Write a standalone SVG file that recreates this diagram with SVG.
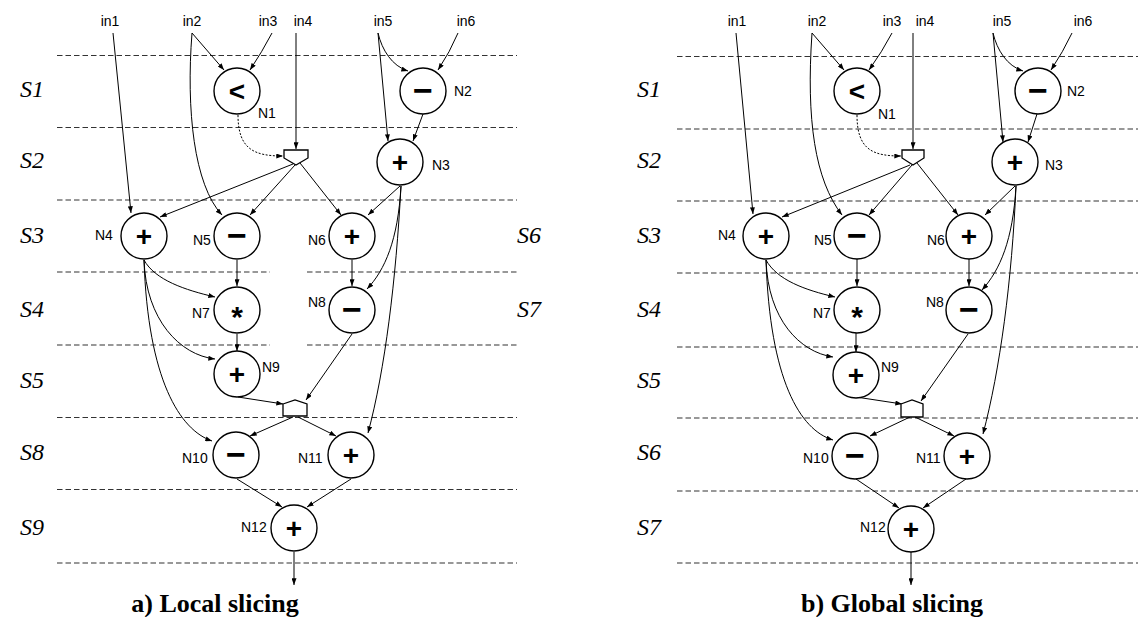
<svg xmlns="http://www.w3.org/2000/svg" width="1138" height="617" viewBox="0 0 1138 617">
<style>
.dl{stroke:#333;stroke-width:1.1;stroke-dasharray:5.5 3;fill:none}
.nd circle{fill:#fff;stroke:#000;stroke-width:1.4}
.mux{fill:#fff;stroke:#000;stroke-width:1.3}
.e{stroke:#000;stroke-width:1;fill:none;marker-end:url(#ah)}
.dot{stroke-dasharray:2 1.6}
.op{font-family:"Liberation Sans",Arial,sans-serif;font-weight:bold;font-size:28px;text-anchor:middle}
.mn{font-size:34px}
.st2{font-size:30px}
.lbl{font-family:"Liberation Sans",Arial,sans-serif;font-size:14px}
.in{font-family:"Liberation Sans",Arial,sans-serif;font-size:14px;text-anchor:middle}
.st{font-family:"Liberation Serif","Times New Roman",serif;font-style:italic;font-size:24px}
.cap{font-family:"Liberation Serif","Times New Roman",serif;font-weight:bold;font-size:26px;text-anchor:middle}
</style>
<defs>
<marker id="ah" viewBox="0 0 8 6" refX="8" refY="3" markerWidth="7" markerHeight="5" markerUnits="userSpaceOnUse" orient="auto"><path d="M0,0 L8,3 L0,6 z" fill="#000"/></marker>
</defs>
<rect width="1138" height="617" fill="#fff"/>

<g id="stage-lines">
<path class="dl" d="M57,55.5H517M57,127.5H517M57,200H517M57,272H270M307,272H517M57,345H270M307,345H517M57,417.5H517M57,489.5H517M57,563H517"/>
<path class="dl" d="M677,56.5H1138M677,129H1138M677,201H1138M677,273H1138M677,347H1138M677,418H1138M677,491H1138M677,563H1138"/>
</g>

<g id="stage-labels">
<text class="st" x="20" y="97">S1</text>
<text class="st" x="20" y="168">S2</text>
<text class="st" x="20" y="243">S3</text>
<text class="st" x="20" y="317">S4</text>
<text class="st" x="20" y="388">S5</text>
<text class="st" x="20" y="460">S8</text>
<text class="st" x="20" y="535">S9</text>
<text class="st" x="517" y="243">S6</text>
<text class="st" x="517" y="317">S7</text>
<text class="st" x="637" y="97">S1</text>
<text class="st" x="637" y="168">S2</text>
<text class="st" x="637" y="243">S3</text>
<text class="st" x="637" y="317">S4</text>
<text class="st" x="637" y="388">S5</text>
<text class="st" x="637" y="460">S6</text>
<text class="st" x="637" y="535">S7</text>
</g>

<g id="inputs">
<text class="in" x="110" y="26">in1</text>
<text class="in" x="192" y="26">in2</text>
<text class="in" x="268" y="26">in3</text>
<text class="in" x="303" y="26">in4</text>
<text class="in" x="383" y="26">in5</text>
<text class="in" x="466" y="26">in6</text>
<text class="in" x="737" y="26">in1</text>
<text class="in" x="817" y="26">in2</text>
<text class="in" x="892" y="26">in3</text>
<text class="in" x="925" y="26">in4</text>
<text class="in" x="1002" y="26">in5</text>
<text class="in" x="1083" y="26">in6</text>
</g>

<g id="connectors">
<!-- left diagram -->
<path class="e" d="M113,33 L131,213"/>
<path class="e" d="M192,33 L224,70"/>
<path class="e" d="M192,33 C186,110 194,185 222,215"/>
<path class="e" d="M272,33 Q262,52 250,70"/>
<path class="e" d="M296,33 L296,149"/>
<path class="e dot" d="M238,115 C238,150 255,156 283,156"/>
<path class="e" d="M293,164 L160,217"/>
<path class="e" d="M295,165 L250,215"/>
<path class="e" d="M300,163 L341,215"/>
<path class="e" d="M378,33 C382,50 392,66 408,71"/>
<path class="e" d="M378,33 L388,141"/>
<path class="e" d="M458,33 Q450,52 438,70"/>
<path class="e" d="M423,114 L413,141"/>
<path class="e" d="M400,186 L368,215"/>
<path class="e" d="M401,186 C398,240 385,270 367,289"/>
<path class="e" d="M401,186 C396,280 385,370 368,433"/>
<path class="e" d="M144,260 C155,280 185,290 215,297"/>
<path class="e" d="M144,260 C146,320 180,355 215,359"/>
<path class="e" d="M144,260 C148,380 180,430 212,441"/>
<path class="e" d="M237,260 L237,286"/>
<path class="e" d="M237,334 L237,351"/>
<path class="e" d="M352,260 L352,286"/>
<path class="e" d="M238,397 L283,404"/>
<path class="e" d="M352,334 L306,400"/>
<path class="e" d="M293,417 L250,436"/>
<path class="e" d="M298,417 L336,436"/>
<path class="e" d="M237,479 L282,507"/>
<path class="e" d="M351,479 L307,507"/>
<path class="e" d="M294,552 L294,585"/>
<!-- right diagram -->
<path class="e" d="M736,33 L753,214"/>
<path class="e" d="M812,33 L844,70"/>
<path class="e" d="M812,33 C806,120 815,180 842,215"/>
<path class="e" d="M892,33 Q882,52 869,70"/>
<path class="e" d="M913,33 L913,149"/>
<path class="e dot" d="M857,115 C857,150 873,156 901,156"/>
<path class="e" d="M910,165 L782,217"/>
<path class="e" d="M912,165 L869,215"/>
<path class="e" d="M917,163 L958,215"/>
<path class="e" d="M993,33 C997,50 1007,66 1023,71"/>
<path class="e" d="M993,33 L1003,142"/>
<path class="e" d="M1072,33 Q1063,52 1051,70"/>
<path class="e" d="M1037,114 L1028,142"/>
<path class="e" d="M1015,186 L985,215"/>
<path class="e" d="M1016,186 C1013,240 1000,270 982,290"/>
<path class="e" d="M1016,186 C1012,280 1000,370 983,434"/>
<path class="e" d="M766,260 C777,280 805,290 835,297"/>
<path class="e" d="M766,260 C768,320 800,352 833,357"/>
<path class="e" d="M766,260 C770,380 800,430 833,440"/>
<path class="e" d="M857,259 L857,286"/>
<path class="e" d="M856,333 L856,352"/>
<path class="e" d="M969,259 L969,286"/>
<path class="e" d="M856,397 L902,404"/>
<path class="e" d="M968,334 L921,401"/>
<path class="e" d="M910,417 L870,436"/>
<path class="e" d="M915,417 L954,436"/>
<path class="e" d="M856,479 L899,508"/>
<path class="e" d="M966,479 L923,508"/>
<path class="e" d="M911,552 L911,585"/>
</g>

<!-- left diagram nodes -->
<g id="a-mux1"><polygon class="mux" points="284,150 308,150 308,158 296,165 284,158"/></g>
<g id="a-mux2"><polygon class="mux" points="283,404 295,400 307,404 307,416 283,416"/></g>
<g id="a-N1" class="nd"><circle cx="237" cy="91" r="23"/><text class="op" x="237" y="101">&lt;</text><text class="lbl" x="258" y="118">N1</text></g>
<g id="a-N2" class="nd"><circle cx="423" cy="91" r="23"/><text class="op mn" x="423" y="102">−</text><text class="lbl" x="454" y="96">N2</text></g>
<g id="a-N3" class="nd"><circle cx="400" cy="162" r="23"/><text class="op" x="400" y="172">+</text><text class="lbl" x="432" y="170">N3</text></g>
<g id="a-N4" class="nd"><circle cx="144" cy="236" r="23"/><text class="op" x="144" y="246">+</text><text class="lbl" x="95" y="240">N4</text></g>
<g id="a-N5" class="nd"><circle cx="237" cy="236" r="23"/><text class="op mn" x="237" y="247">−</text><text class="lbl" x="193" y="245">N5</text></g>
<g id="a-N6" class="nd"><circle cx="352" cy="236" r="23"/><text class="op" x="352" y="246">+</text><text class="lbl" x="308" y="245">N6</text></g>
<g id="a-N7" class="nd"><circle cx="237" cy="310" r="23"/><text class="op st2" x="237" y="327">*</text><text class="lbl" x="192" y="318">N7</text></g>
<g id="a-N8" class="nd"><circle cx="352" cy="310" r="23"/><text class="op mn" x="352" y="321">−</text><text class="lbl" x="308" y="307">N8</text></g>
<g id="a-N9" class="nd"><circle cx="237" cy="374" r="23"/><text class="op" x="237" y="384">+</text><text class="lbl" x="262" y="372">N9</text></g>
<g id="a-N10" class="nd"><circle cx="236" cy="455" r="23"/><text class="op mn" x="236" y="466">−</text><text class="lbl" x="182" y="463">N10</text></g>
<g id="a-N11" class="nd"><circle cx="351" cy="455" r="23"/><text class="op" x="351" y="465">+</text><text class="lbl" x="298" y="463">N11</text></g>
<g id="a-N12" class="nd"><circle cx="294" cy="528" r="23"/><text class="op" x="294" y="538">+</text><text class="lbl" x="241" y="532">N12</text></g>

<!-- right diagram nodes -->
<g id="b-mux1"><polygon class="mux" points="902,150 924,150 924,158 913,165 902,158"/></g>
<g id="b-mux2"><polygon class="mux" points="901,404 912,400 923,404 923,417 901,417"/></g>
<g id="b-N1" class="nd"><circle cx="857" cy="91" r="23"/><text class="op" x="857" y="101">&lt;</text><text class="lbl" x="878" y="119">N1</text></g>
<g id="b-N2" class="nd"><circle cx="1038" cy="91" r="23"/><text class="op mn" x="1038" y="102">−</text><text class="lbl" x="1067" y="96">N2</text></g>
<g id="b-N3" class="nd"><circle cx="1015" cy="162" r="23"/><text class="op" x="1015" y="172">+</text><text class="lbl" x="1045" y="170">N3</text></g>
<g id="b-N4" class="nd"><circle cx="766" cy="236" r="23"/><text class="op" x="766" y="246">+</text><text class="lbl" x="718" y="240">N4</text></g>
<g id="b-N5" class="nd"><circle cx="857" cy="236" r="23"/><text class="op mn" x="857" y="247">−</text><text class="lbl" x="814" y="245">N5</text></g>
<g id="b-N6" class="nd"><circle cx="969" cy="236" r="23"/><text class="op" x="969" y="246">+</text><text class="lbl" x="927" y="245">N6</text></g>
<g id="b-N7" class="nd"><circle cx="857" cy="310" r="23"/><text class="op st2" x="857" y="327">*</text><text class="lbl" x="813" y="318">N7</text></g>
<g id="b-N8" class="nd"><circle cx="969" cy="310" r="23"/><text class="op mn" x="969" y="321">−</text><text class="lbl" x="926" y="307">N8</text></g>
<g id="b-N9" class="nd"><circle cx="856" cy="375" r="23"/><text class="op" x="856" y="385">+</text><text class="lbl" x="881" y="372">N9</text></g>
<g id="b-N10" class="nd"><circle cx="855" cy="456" r="23"/><text class="op mn" x="855" y="467">−</text><text class="lbl" x="803" y="463">N10</text></g>
<g id="b-N11" class="nd"><circle cx="967" cy="456" r="23"/><text class="op" x="967" y="466">+</text><text class="lbl" x="916" y="463">N11</text></g>
<g id="b-N12" class="nd"><circle cx="911" cy="529" r="23"/><text class="op" x="911" y="539">+</text><text class="lbl" x="860" y="532">N12</text></g>

<g id="captions">
<text class="cap" x="215" y="612">a) Local slicing</text>
<text class="cap" x="892" y="612">b) Global slicing</text>
</g>
</svg>
